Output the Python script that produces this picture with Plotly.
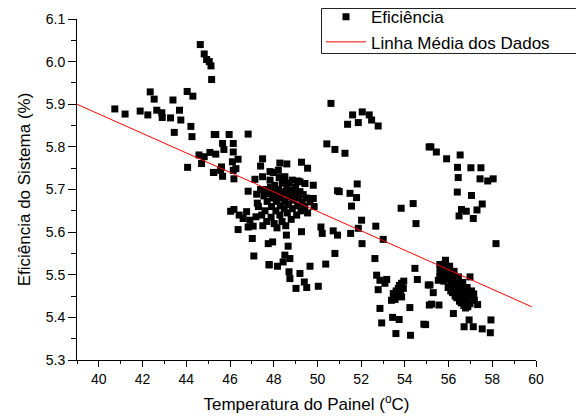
import plotly.graph_objects as go

# Temperatura do Painel (°C)
temp = [
    40.73, 41.20, 41.89, 42.24, 42.35, 42.53, 42.65, 42.88, 42.90, 43.28, 43.39, 43.45, 43.69, 43.75,
    44.04, 44.30, 44.21, 44.26, 44.06,
    44.64, 44.82, 44.93, 45.05, 45.13, 45.16,
    45.28, 44.58, 44.82, 45.08, 45.35, 44.70, 45.24,
    45.35, 45.96, 46.83, 45.66, 46.15, 45.72, 46.15,
    45.61, 46.11, 46.37, 47.49, 47.40,
    45.26, 45.57, 45.66, 46.15, 46.27, 46.18,
    47.14, 47.49, 47.83, 47.83, 46.83, 47.22,
    46.03, 46.18, 46.42, 46.76, 46.60, 46.91, 47.19, 47.06, 46.83, 46.37,
    47.02, 47.75, 47.95, 47.09, 47.79,
    48.28, 48.60, 48.21, 49.27, 49.55, 48.51, 48.85, 49.20, 49.43, 49.81, 50.92,
    49.81, 49.66, 49.85,
    50.16, 50.22, 49.27, 50.72, 50.92, 48.58, 48.66,
    50.80, 48.51, 48.74, 48.43, 47.79, 48.17, 49.66, 50.38, 48.70, 49.20, 48.74, 49.40, 49.51, 49.02, 50.04,
    47.40, 47.55, 47.62, 47.70, 47.78, 47.85, 47.90, 47.95, 48.00, 48.05, 48.10, 48.12, 48.18, 48.22,
    48.28, 48.30, 48.35, 48.40, 48.42, 48.48, 48.50, 48.55, 48.60, 48.62, 48.68, 48.72, 48.78, 48.80,
    48.85, 48.90, 48.95, 49.00, 49.05, 49.10, 49.15, 49.20, 49.25, 49.30, 49.35, 49.42, 49.50, 49.55,
    47.30, 47.45, 47.60, 47.68, 47.88, 48.02, 48.15, 48.38, 48.55, 47.50, 47.25, 48.25, 47.98, 48.70, 49.10,
    50.62, 50.43, 50.80, 51.26,
    51.61, 52.05, 52.37, 52.48, 52.78, 51.38, 51.87,
    55.11,
    51.82, 51.00, 51.49, 51.79, 51.56, 53.83, 54.38, 54.51, 52.02, 52.67, 51.87, 51.52, 52.04, 53.01, 52.63, 54.46,
    52.71, 52.86, 53.17, 53.09, 52.78, 54.57, 55.07,
    53.85, 53.70, 53.93, 53.47, 53.62, 53.85, 53.39, 53.55, 53.75, 53.95, 53.60, 53.80,
    54.23, 52.86, 53.44, 53.74, 52.94, 54.87, 53.59, 54.26, 55.12,
    55.19, 55.44, 55.91, 56.53, 56.41, 57.02, 57.48, 56.44, 57.44, 57.79, 58.04, 56.40, 57.05, 57.54,
    56.59, 56.81, 57.30, 56.48, 57.13,
    58.17, 55.86, 55.60, 56.98, 55.15, 55.30, 55.22, 55.56, 57.33, 56.22, 54.95, 56.94, 56.71, 57.13,
    57.94, 57.54, 57.91,
    55.60, 55.62, 55.78, 55.80, 55.82, 55.98, 56.00, 56.02, 56.05, 56.18, 56.20, 56.22, 56.25,
    56.38, 56.40, 56.42, 56.45, 56.58, 56.60, 56.62, 56.65, 56.78, 56.80, 56.82, 56.85,
    56.98, 57.02, 57.05, 57.15, 57.18,
    55.70, 55.90, 56.10, 56.30, 56.50, 56.70, 56.90, 55.88, 56.12, 56.32, 56.52, 56.72,
    56.10, 56.30, 56.50, 56.70, 56.88, 55.61, 55.53,
]

# Eficiência do Sistema (%)
eficiencia = [
    5.889, 5.877, 5.884, 5.875, 5.929, 5.912, 5.886, 5.880, 5.869, 5.868, 5.910, 5.834, 5.886, 5.863,
    5.930, 5.919, 5.848, 5.824, 5.752,
    6.040, 6.018, 6.005, 6.000, 5.990, 5.958,
    5.829, 5.781, 5.777, 5.787, 5.783, 5.761, 5.740,
    5.829, 5.829, 5.830, 5.808, 5.808, 5.794, 5.788,
    5.753, 5.765, 5.771, 5.772, 5.755,
    5.740, 5.745, 5.731, 5.745, 5.749, 5.725,
    5.724, 5.730, 5.742, 5.722, 5.696, 5.689,
    5.649, 5.653, 5.640, 5.648, 5.632, 5.628, 5.636, 5.614, 5.612, 5.606,
    5.585, 5.573, 5.577, 5.544, 5.523,
    5.762, 5.760, 5.745, 5.764, 5.750, 5.730, 5.722, 5.718, 5.714, 5.710, 5.697,
    5.679, 5.671, 5.660,
    5.612, 5.597, 5.601, 5.603, 5.593, 5.593, 5.567,
    5.550, 5.546, 5.538, 5.530, 5.524, 5.520, 5.520, 5.525, 5.507, 5.503, 5.491, 5.483, 5.470, 5.468, 5.473,
    5.700, 5.685, 5.700, 5.672, 5.690, 5.705, 5.660, 5.680, 5.695, 5.710, 5.650, 5.672, 5.688, 5.700,
    5.640, 5.662, 5.680, 5.715, 5.695, 5.655, 5.672, 5.690, 5.705, 5.645, 5.665, 5.682, 5.698, 5.630,
    5.655, 5.675, 5.690, 5.705, 5.640, 5.662, 5.680, 5.695, 5.650, 5.670, 5.688, 5.660, 5.680, 5.645,
    5.660, 5.640, 5.650, 5.625, 5.635, 5.620, 5.610, 5.625, 5.615, 5.615, 5.668, 5.728, 5.740, 5.715, 5.720,
    5.902, 5.807, 5.794, 5.785,
    5.875, 5.882, 5.875, 5.863, 5.849, 5.853, 5.857,
    5.800,
    5.713, 5.695, 5.691, 5.681, 5.661, 5.656, 5.667, 5.620, 5.628, 5.614, 5.609, 5.597, 5.573, 5.583, 5.538, 5.515,
    5.499, 5.487, 5.489, 5.480, 5.465, 5.489, 5.476,
    5.480, 5.468, 5.468, 5.456, 5.450, 5.448, 5.440, 5.442, 5.475, 5.485, 5.462, 5.458,
    5.423, 5.421, 5.400, 5.395, 5.387, 5.384, 5.362, 5.358, 5.429,
    5.800, 5.788, 5.772, 5.781, 5.752, 5.751, 5.751, 5.728, 5.725, 5.720, 5.725, 5.694, 5.686, 5.666,
    5.653, 5.649, 5.652, 5.638, 5.632,
    5.573, 5.534, 5.524, 5.495, 5.476, 5.458, 5.431, 5.429, 5.430, 5.409, 5.383, 5.394, 5.378, 5.378,
    5.394, 5.373, 5.364,
    5.495, 5.512, 5.485, 5.505, 5.525, 5.470, 5.490, 5.508, 5.520, 5.458, 5.475, 5.492, 5.508,
    5.446, 5.462, 5.478, 5.495, 5.434, 5.450, 5.466, 5.482, 5.422, 5.438, 5.455, 5.470,
    5.432, 5.448, 5.462, 5.455, 5.440,
    5.500, 5.498, 5.480, 5.468, 5.455, 5.445, 5.452, 5.515, 5.500, 5.485, 5.472, 5.462,
    5.462, 5.450, 5.438, 5.428, 5.425, 5.507, 5.487,
]

# Linha Média dos Dados (end points of the fitted line)
linha_x = [39.0, 59.8]
linha_y = [5.900, 5.425]

FONT = "Arial, Liberation Sans, sans-serif"

fig = go.Figure()
fig.add_trace(go.Scatter(
    x=temp, y=eficiencia, mode="markers", name="Eficiência",
    marker=dict(symbol="square", size=7, color="black", line=dict(width=0)),
))
fig.add_trace(go.Scatter(
    x=linha_x, y=linha_y, mode="lines", name="Linha Média dos Dados",
    line=dict(color="#ff0000", width=1),
))

# legend frame (paper coordinates)
L, R, B, T = 0.53268, 1.10131, 0.89883, 1.03079
frame_style = dict(color="#222222", width=1)
frame = [
    dict(type="line", xref="paper", yref="paper", x0=L, x1=R, y0=T, y1=T, line=frame_style, layer="above"),
    dict(type="line", xref="paper", yref="paper", x0=L, x1=R, y0=B, y1=B, line=frame_style, layer="above"),
    dict(type="line", xref="paper", yref="paper", x0=L, x1=L, y0=B, y1=T, line=frame_style, layer="above"),
    dict(type="line", xref="paper", yref="paper", x0=R, x1=R, y0=B, y1=T, line=frame_style, layer="above"),
]

fig.update_layout(
    width=576, height=411,
    margin=dict(l=69, r=48, t=11, b=59, autoexpand=False),
    paper_bgcolor="white", plot_bgcolor="white",
    font=dict(family=FONT, color="black", size=14),
    showlegend=True,
    legend=dict(
        x=0.5316, y=1.058, xanchor="left", yanchor="top",
        borderwidth=0, bgcolor="rgba(255,255,255,0)",
        font=dict(family=FONT, size=17, color="black"),
        itemwidth=40, tracegroupgap=0,
    ),
    shapes=frame,
    xaxis=dict(
        range=[39, 60], tick0=40, dtick=2, showgrid=False, zeroline=False,
        showline=True, linecolor="black", linewidth=1,
        ticks="outside", ticklen=6, tickcolor="black", tickwidth=1,
        minor=dict(dtick=1, tick0=39, ticks="outside", ticklen=3, tickcolor="black", tickwidth=1),
        tickfont=dict(family=FONT, size=14),
        title=dict(text="Temperatura do Painel (<sup>o</sup>C)", font=dict(family=FONT, size=17), standoff=12),
        automargin=False,
    ),
    yaxis=dict(
        range=[5.3, 6.1], tick0=5.3, dtick=0.1, tickformat=".1f", showgrid=False, zeroline=False,
        showline=True, linecolor="black", linewidth=1,
        ticks="outside", ticklen=8, tickcolor="black", tickwidth=1,
        minor=dict(dtick=0.05, ticks="outside", ticklen=5, tickcolor="black", tickwidth=1),
        tickfont=dict(family=FONT, size=14),
        title=dict(text="Eficiência do Sistema (%)", font=dict(family=FONT, size=17), standoff=10),
        automargin=False,
    ),
)

fig.write_html("out.html")
